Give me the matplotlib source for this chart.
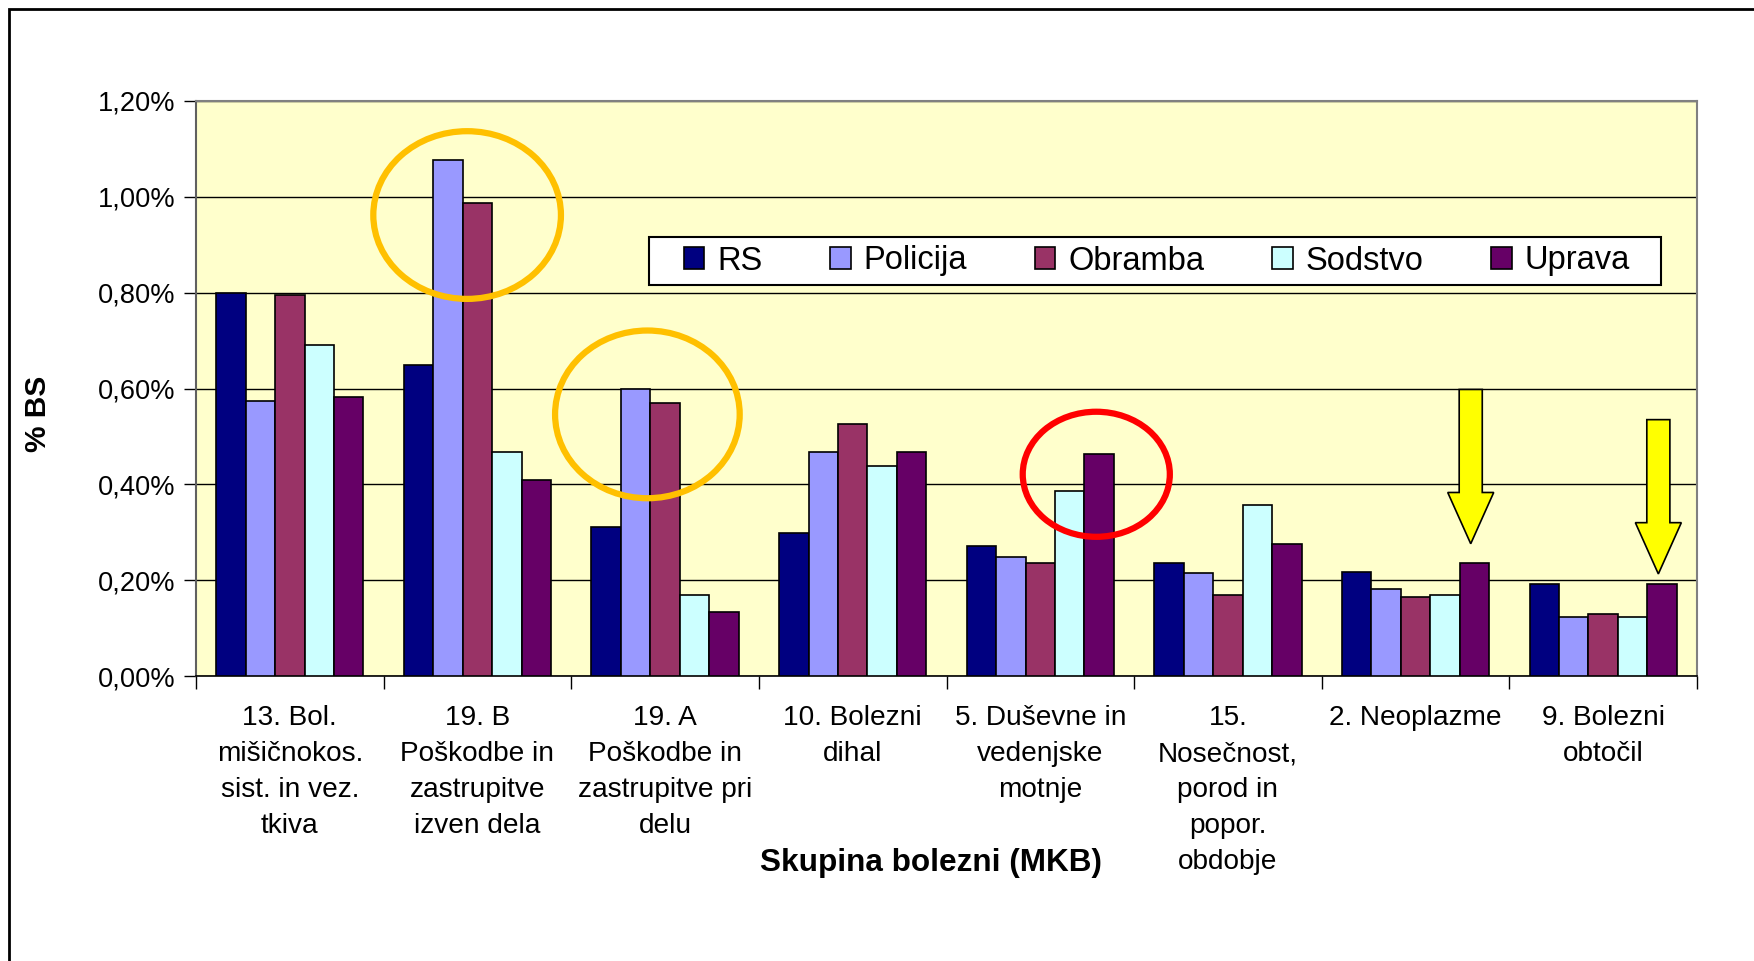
import numpy as np
import matplotlib
matplotlib.use("Agg")
import matplotlib.pyplot as plt
from matplotlib.patches import Ellipse, FancyArrow, Rectangle
from matplotlib.ticker import FuncFormatter

plt.rcParams['font.family'] = ['Liberation Sans', 'DejaVu Sans']

# Data (% bolniškega staleža po skupinah bolezni)
categories = ['13. Bol.\nmišičnokos.\nsist. in vez.\ntkiva',
              '19. B\nPoškodbe in\nzastrupitve\nizven dela',
              '19. A\nPoškodbe in\nzastrupitve pri\ndelu',
              '10. Bolezni\ndihal',
              '5. Duševne in\nvedenjske\nmotnje',
              '15.\nNosečnost,\nporod in\npopor.\nobdobje',
              '2. Neoplazme',
              '9. Bolezni\nobtočil']
series = ['RS', 'Policija', 'Obramba', 'Sodstvo', 'Uprava']
rs       = [0.800, 0.649, 0.312, 0.299, 0.271, 0.235, 0.217, 0.191]
policija = [0.573, 1.076, 0.600, 0.467, 0.248, 0.214, 0.182, 0.124]
obramba  = [0.796, 0.987, 0.569, 0.525, 0.235, 0.169, 0.164, 0.129]
sodstvo  = [0.690, 0.467, 0.169, 0.439, 0.386, 0.356, 0.169, 0.124]
uprava   = [0.583, 0.409, 0.134, 0.467, 0.463, 0.275, 0.235, 0.191]
colors = ['#000080', '#9999FF', '#993366', '#CCFFFF', '#660066']

fig = plt.figure(figsize=(17.54, 9.61), dpi=100)
ax = fig.add_axes([196 / 1754, 1 - 676 / 961, (1697 - 196) / 1754, (676 - 101) / 961])
ax.set_facecolor('#FFFFCC')

x = np.arange(len(categories))
w = 0.157
for k, (vals, name) in enumerate(zip([rs, policija, obramba, sodstvo, uprava], series)):
    ax.bar(x + (k - 2) * w, vals, w, color=colors[k], edgecolor='black',
           linewidth=1.2, label=name, zorder=3)

ax.set_xlim(-0.5, len(categories) - 0.5)
ax.set_ylim(0, 1.2)
ax.set_yticks(np.arange(0, 1.21, 0.2))
ax.yaxis.set_major_formatter(FuncFormatter(lambda v, p: f'{v:.2f}%'.replace('.', ',')))
ax.grid(axis='y', color='black', linewidth=1, zorder=1)
ax.set_xticks(np.arange(-0.5, len(categories)), labels=[''] * (len(categories) + 1))
ax.set_xticks(x, labels=categories, minor=True)
ax.tick_params(axis='x', which='major', length=9, width=1, color='black')
ax.tick_params(axis='x', which='minor', length=0, pad=21, labelsize=20.2)
ax.tick_params(axis='y', length=9, width=1, labelsize=19.6, pad=6)
for lab in ax.get_xticklabels(minor=True):
    lab.set_linespacing(1.5)
    lab.set_verticalalignment('top')
for s in ['top', 'right']:
    ax.spines[s].set_color('#808080')
    ax.spines[s].set_linewidth(1.5)
ax.spines['left'].set_color('#606060')
ax.spines['left'].set_linewidth(1.5)
ax.spines['bottom'].set_color('black')
ax.spines['bottom'].set_linewidth(1.2)

# highlight circles
ax.add_patch(Ellipse((1 - 0.35 * w, 0.962), 1.0, 0.350, fill=False,
                     edgecolor='#FFC000', linewidth=4.5, zorder=5, clip_on=False))
ax.add_patch(Ellipse((2 - 0.6 * w, 0.546), 0.984, 0.350, fill=False,
                     edgecolor='#FFC000', linewidth=4.5, zorder=5, clip_on=False))
ax.add_patch(Ellipse((4 + 1.9 * w, 0.421), 0.784, 0.261, fill=False,
                     edgecolor='#FF0000', linewidth=4.5, zorder=5, clip_on=False))

# arrows pointing at Uprava bars
for i, top, tip in [(6, 0.598, 0.276), (7, 0.535, 0.213)]:
    xc = i + 2 * w - 0.02
    ax.add_patch(FancyArrow(xc, top, 0, tip - top, width=0.123, head_width=0.245,
                            head_length=0.107, length_includes_head=True,
                            facecolor='#FFFF00', edgecolor='black', linewidth=1.2, zorder=6))

fig.text(38 / 1754, 1 - 414 / 961, '% BS', rotation=90, fontsize=21.5,
         fontweight='bold', ha='center', va='center')
fig.text(931 / 1754, 1 - 863 / 961, 'Skupina bolezni (MKB)', fontsize=22.7,
         fontweight='bold', ha='center', va='center')

# legend
lx0, lx1, ly0, ly1 = 649, 1661, 237, 285
fig.patches.append(Rectangle((lx0 / 1754, 1 - ly1 / 961), (lx1 - lx0) / 1754,
                             (ly1 - ly0) / 961, transform=fig.transFigure,
                             facecolor='white', edgecolor='black', linewidth=1.5, zorder=4))
leg = fig.legend(loc='center', ncol=5, mode='expand', frameon=False,
                 bbox_to_anchor=(684 / 1754, 1 - ly1 / 961, (1630 - 684) / 1754, (ly1 - ly0) / 961),
                 fontsize=23.5, handlelength=0.62, handleheight=0.62, handletextpad=0.4,
                 borderpad=0, borderaxespad=0)
leg.set_zorder(5)

# outer chart border
fig.patches.append(Rectangle((9 / 1754, -0.1), 1.2, 1.1 - 9 / 961, transform=fig.transFigure,
                             fill=False, edgecolor='black', linewidth=2))

fig.savefig('out.png', dpi=100)
